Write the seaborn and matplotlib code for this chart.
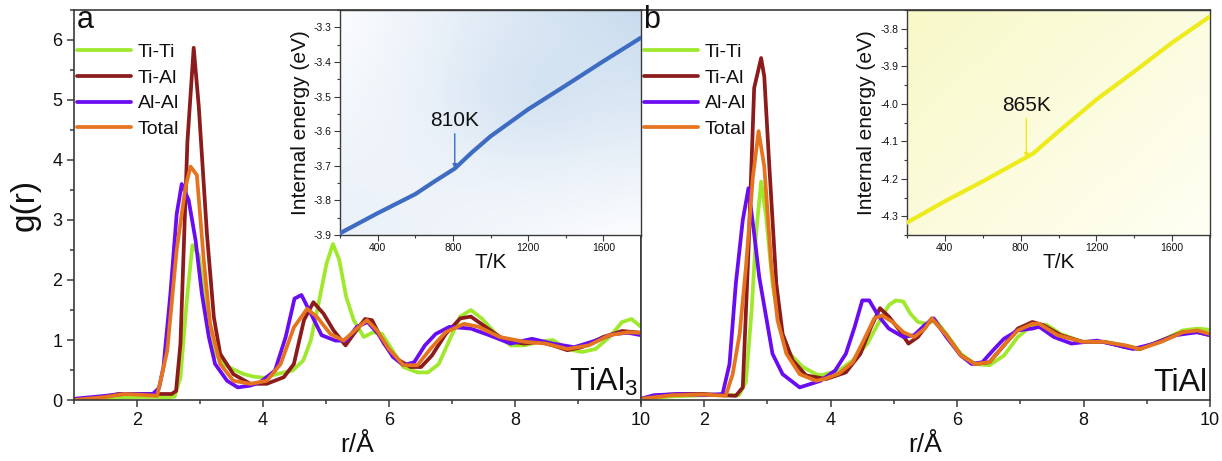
import matplotlib
matplotlib.use("Agg")
import matplotlib.pyplot as plt
import numpy as np
import seaborn as sns
from matplotlib.colors import LinearSegmentedColormap
from matplotlib.ticker import MultipleLocator

# ---- panel a (TiAl3) : pair distribution functions ----
A_TITI_R = [1.0, 1.5, 1.7, 2.0, 2.3, 2.5, 2.6, 2.69, 2.79, 2.88, 2.98, 3.08, 3.17, 3.27, 3.4,
            3.55, 3.7, 3.85, 4.02, 4.25, 4.47, 4.64, 4.76, 4.87, 5.01, 5.11, 5.21, 5.32, 5.44, 5.6,
            5.75, 5.89, 6.09, 6.23, 6.45, 6.62, 6.79, 6.96, 7.13, 7.3, 7.47, 7.7, 7.93, 8.15, 8.38,
            8.6, 8.83, 9.06, 9.28, 9.5, 9.7, 9.85, 10.0]
A_TITI_G = [0.0, 0.0, 0.04, 0.05, 0.05, 0.04, 0.06, 0.38, 1.66, 2.58, 2.42, 1.7, 1.2, 0.72, 0.58,
            0.5, 0.43, 0.39, 0.37, 0.44, 0.49, 0.66, 1.0, 1.55, 2.28, 2.6, 2.34, 1.72, 1.33, 1.05,
            1.13, 1.1, 0.77, 0.55, 0.46, 0.46, 0.6, 1.0, 1.39, 1.5, 1.36, 1.1, 0.91, 0.91, 0.97,
            1.0, 0.85, 0.8, 0.85, 1.05, 1.3, 1.35, 1.22]

A_TIAL_R = [1.0, 1.3, 1.7, 2.0, 2.3, 2.55, 2.62, 2.69, 2.8, 2.9, 2.98, 3.11, 3.22, 3.32, 3.53,
            3.8, 4.06, 4.33, 4.49, 4.65, 4.8, 4.96, 5.12, 5.31, 5.44, 5.62, 5.73, 5.92, 6.1, 6.34,
            6.51, 6.68, 6.9, 7.13, 7.3, 7.53, 7.76, 7.95, 8.15, 8.38, 8.6, 8.83, 9.06, 9.4, 9.7, 10.0]
A_TIAL_G = [0.0, 0.02, 0.1, 0.1, 0.1, 0.1, 0.15, 0.94, 4.3, 5.87, 4.9, 2.77, 1.38, 0.77, 0.43,
            0.27, 0.27, 0.38, 0.6, 1.33, 1.63, 1.44, 1.16, 0.91, 1.1, 1.35, 1.33, 0.94, 0.7, 0.55,
            0.55, 0.74, 1.1, 1.36, 1.39, 1.22, 1.05, 0.97, 0.94, 0.97, 0.91, 0.83, 0.88, 1.05, 1.15, 1.12]

A_ALAL_R = [1.0, 1.5, 1.8, 2.0, 2.25, 2.35, 2.42, 2.53, 2.63, 2.71, 2.82, 2.93, 3.03, 3.14, 3.24,
            3.43, 3.6, 3.8, 3.96, 4.19, 4.36, 4.5, 4.61, 4.76, 4.93, 5.15, 5.32, 5.49, 5.66, 5.83,
            6.06, 6.23, 6.4, 6.57, 6.74, 6.96, 7.3, 7.59, 7.93, 8.27, 8.6, 8.94, 9.28, 9.57, 9.8, 10.0]
A_ALAL_G = [0.02, 0.07, 0.1, 0.1, 0.1, 0.2, 0.55, 1.77, 3.1, 3.6, 3.33, 2.66, 1.77, 1.05, 0.6,
            0.32, 0.21, 0.24, 0.3, 0.49, 1.05, 1.69, 1.75, 1.44, 1.08, 0.99, 0.99, 1.22, 1.3, 1.1,
            0.72, 0.58, 0.63, 0.91, 1.1, 1.22, 1.19, 1.08, 0.94, 1.02, 0.94, 0.88, 0.99, 1.1, 1.12, 1.08]

A_TOT_R = [1.0, 1.5, 1.8, 2.0, 2.32, 2.48, 2.63, 2.77, 2.85, 2.95, 3.06, 3.16, 3.32, 3.53, 3.8,
           4.06, 4.28, 4.49, 4.7, 4.86, 5.07, 5.28, 5.49, 5.65, 5.81, 6.0, 6.23, 6.45, 6.68, 6.9,
           7.19, 7.42, 7.76, 8.15, 8.49, 8.83, 9.17, 9.5, 9.8, 10.0]
A_TOT_G = [0.0, 0.05, 0.1, 0.09, 0.07, 0.82, 2.5, 3.55, 3.89, 3.75, 2.33, 1.27, 0.6, 0.32, 0.27,
           0.32, 0.6, 1.21, 1.52, 1.38, 1.1, 0.99, 1.19, 1.33, 1.16, 0.85, 0.58, 0.58, 0.88, 1.13,
           1.27, 1.22, 1.05, 0.97, 0.94, 0.85, 0.91, 1.08, 1.13, 1.12]

# ---- panel b (TiAl) ----
B_TITI_R = [1.0, 1.5, 2.0, 2.3, 2.55, 2.66, 2.75, 2.82, 2.9, 2.98, 3.08, 3.19, 3.35, 3.56, 3.77,
            3.84, 4.13, 4.35, 4.58, 4.75, 4.92, 5.03, 5.15, 5.26, 5.38, 5.52, 5.66, 5.83, 6.06, 6.28,
            6.51, 6.74, 6.96, 7.19, 7.42, 7.64, 7.98, 8.32, 8.66, 8.89, 9.23, 9.57, 9.8, 10.0]
B_TITI_G = [0.02, 0.06, 0.08, 0.08, 0.08, 0.3, 1.5, 2.77, 3.64, 3.05, 1.94, 1.21, 0.77, 0.55, 0.43,
            0.41, 0.49, 0.66, 0.94, 1.27, 1.58, 1.66, 1.64, 1.44, 1.3, 1.27, 1.33, 1.1, 0.77, 0.6,
            0.58, 0.74, 1.05, 1.25, 1.25, 1.1, 0.97, 0.97, 0.91, 0.85, 0.99, 1.16, 1.19, 1.17]

B_TIAL_R = [1.0, 1.3, 1.6, 2.0, 2.3, 2.5, 2.61, 2.7, 2.79, 2.9, 2.95, 3.03, 3.14, 3.24, 3.4,
            3.61, 3.93, 4.24, 4.47, 4.64, 4.78, 4.92, 5.09, 5.23, 5.38, 5.6, 5.83, 6.06, 6.28, 6.51,
            6.74, 6.96, 7.19, 7.36, 7.64, 7.98, 8.32, 8.66, 8.89, 9.23, 9.57, 9.8, 10.0]
B_TIAL_G = [0.02, 0.08, 0.1, 0.1, 0.08, 0.07, 0.21, 2.5, 5.2, 5.7, 5.39, 3.89, 1.94, 1.1, 0.66,
            0.41, 0.35, 0.46, 0.77, 1.22, 1.53, 1.39, 1.16, 0.94, 1.05, 1.36, 1.08, 0.74, 0.6, 0.63,
            0.91, 1.19, 1.3, 1.25, 1.08, 0.97, 0.97, 0.88, 0.85, 0.99, 1.13, 1.13, 1.08]

B_ALAL_R = [1.0, 1.2, 1.6, 2.0, 2.29, 2.4, 2.5, 2.61, 2.7, 2.79, 2.87, 2.98, 3.08, 3.24, 3.51,
            3.84, 4.07, 4.24, 4.38, 4.5, 4.61, 4.75, 4.92, 5.15, 5.32, 5.49, 5.63, 5.83, 6.06, 6.23,
            6.4, 6.57, 6.74, 6.96, 7.19, 7.3, 7.53, 7.81, 8.21, 8.55, 8.78, 9.12, 9.46, 9.8, 10.0]
B_ALAL_G = [0.02, 0.08, 0.1, 0.08, 0.1, 0.6, 1.94, 3.0, 3.53, 2.77, 2.05, 1.38, 0.77, 0.43, 0.21,
            0.32, 0.49, 0.77, 1.22, 1.66, 1.66, 1.41, 1.19, 1.05, 1.08, 1.25, 1.36, 1.05, 0.74, 0.6,
            0.63, 0.83, 1.02, 1.16, 1.19, 1.22, 1.05, 0.94, 0.99, 0.91, 0.85, 0.94, 1.08, 1.13, 1.08]

B_TOT_R = [1.0, 1.5, 2.0, 2.34, 2.45, 2.56, 2.66, 2.77, 2.86, 2.95, 3.06, 3.16, 3.3, 3.51, 3.77,
           3.9, 4.13, 4.35, 4.52, 4.69, 4.81, 4.98, 5.15, 5.32, 5.49, 5.6, 5.83, 6.06, 6.28, 6.51,
           6.74, 6.96, 7.19, 7.3, 7.59, 7.98, 8.32, 8.66, 8.89, 9.23, 9.57, 9.8, 10.0]
B_TOT_G = [0.02, 0.08, 0.09, 0.07, 0.43, 1.1, 2.22, 3.72, 4.48, 3.89, 2.27, 1.33, 0.77, 0.43, 0.32,
           0.35, 0.44, 0.63, 0.99, 1.36, 1.41, 1.3, 1.13, 1.05, 1.19, 1.36, 1.08, 0.74, 0.6, 0.63,
           0.91, 1.16, 1.27, 1.27, 1.08, 0.97, 0.97, 0.91, 0.85, 0.97, 1.13, 1.16, 1.1]

# ---- insets: internal energy vs temperature ----
A_T = [200, 400, 600, 700, 810, 900, 1000, 1200, 1400, 1600, 1800]
A_E = [-3.895, -3.837, -3.782, -3.746, -3.708, -3.662, -3.615, -3.537, -3.468, -3.398, -3.33]
B_T = [200, 400, 600, 865, 1000, 1200, 1400, 1600, 1800]
B_E = [-4.317, -4.26, -4.207, -4.133, -4.074, -3.989, -3.914, -3.837, -3.767]

LABELS = ["Ti-Ti", "Ti-Al", "Al-Al", "Total"]
COLORS = ["#9fe82c", "#8c1c1c", "#6a0cf2", "#e6741e"]

sns.set_style("ticks")
plt.rcParams["font.family"] = ["Liberation Sans", "DejaVu Sans"]
plt.rcParams["mathtext.fontset"] = "custom"
plt.rcParams["mathtext.rm"] = "Liberation Sans"
for key in ("text.color", "axes.labelcolor", "xtick.labelcolor", "ytick.labelcolor"):
    plt.rcParams[key] = "#111111"

SPINE = "#3a3a3a"
W, H = 1222, 461


def px_box(x0, x1, y0, y1):
    # pixel box (top-origin) -> figure fraction rect
    return [x0 / W, 1 - y1 / H, (x1 - x0) / W, (y1 - y0) / H]


def style_spines(ax, lw=1.2):
    for s in ax.spines.values():
        s.set_visible(True)
        s.set_color(SPINE)
        s.set_linewidth(lw)


def draw_gr(ax, series, letter, material, show_y):
    for (r, g), lab, col in zip(series, LABELS, COLORS):
        sns.lineplot(x=r, y=g, ax=ax, color=col, lw=2.7, label=lab)
    ax.set_xlim(1, 10)
    ax.set_ylim(0, 6.5)
    ax.xaxis.set_major_locator(MultipleLocator(2))
    ax.xaxis.set_minor_locator(MultipleLocator(1))
    ax.yaxis.set_major_locator(MultipleLocator(1))
    ax.yaxis.set_minor_locator(MultipleLocator(0.5))
    ax.tick_params(which="both", direction="out", color=SPINE, width=1.1, labelsize=13)
    ax.tick_params(which="major", length=5)
    ax.tick_params(which="minor", length=3)
    ax.set_xlabel("r/Å", fontsize=19, labelpad=3)
    if show_y:
        ax.set_ylabel("g(r)", fontsize=24, labelpad=8)
    else:
        ax.set_ylabel("")
        ax.tick_params(axis="y", which="both", left=False, labelleft=False)
    style_spines(ax)
    ax.legend(loc="upper left", bbox_to_anchor=(0.005, 0.915), frameon=False, fontsize=14,
              handlelength=2.8, handletextpad=0.35, labelspacing=0.42, borderpad=0,
              borderaxespad=0)
    ax.text(0.004, 1.012, letter, transform=ax.transAxes, fontsize=22, va="top", ha="left")
    ax.text(0.995, 0.005, material, transform=ax.transAxes, fontsize=23, va="bottom", ha="right")


def draw_inset(ax, t, e, color, cmap, grad, ylim, yticks, note, note_xy, note_text_xy):
    ax.imshow(grad, extent=(0, 1, 0, 1), transform=ax.transAxes, aspect="auto",
              cmap=cmap, origin="lower", zorder=0, interpolation="bicubic")
    sns.lineplot(x=t, y=e, ax=ax, color=color, lw=3.0, zorder=3)
    ax.set_xlim(200, 1800)
    ax.set_ylim(*ylim)
    ax.set_xticks([400, 800, 1200, 1600])
    ax.xaxis.set_minor_locator(MultipleLocator(200))
    ax.set_yticks(yticks)
    ax.set_yticklabels([f"{v:.1f}" for v in yticks])
    ax.yaxis.set_minor_locator(MultipleLocator(0.05))
    ax.tick_params(which="both", direction="out", color=SPINE, width=0.8, labelsize=7.5, pad=2)
    ax.tick_params(which="major", length=4)
    ax.tick_params(which="minor", length=2.5)
    ax.set_xlabel("T/K", fontsize=15, labelpad=0)
    ax.set_ylabel("Internal energy (eV)", fontsize=15, labelpad=3)
    style_spines(ax, 1.0)
    ax.annotate(note, xy=note_xy, xytext=note_text_xy, ha="center", va="bottom", fontsize=15,
                arrowprops=dict(arrowstyle="-|>", color=color, lw=1.0, mutation_scale=6,
                                shrinkA=0, shrinkB=0), zorder=4)


fig = plt.figure(figsize=(W / 100, H / 100), dpi=100)
ax_a = fig.add_axes(px_box(74, 641, 10, 400))
ax_b = fig.add_axes(px_box(641, 1210, 10, 400))

draw_gr(ax_a, [(A_TITI_R, A_TITI_G), (A_TIAL_R, A_TIAL_G), (A_ALAL_R, A_ALAL_G),
               (A_TOT_R, A_TOT_G)], "a", r"TiAl$_\mathregular{3}$", True)
draw_gr(ax_b, [(B_TITI_R, B_TITI_G), (B_TIAL_R, B_TIAL_G), (B_ALAL_R, B_ALAL_G),
               (B_TOT_R, B_TOT_G)], "b", "TiAl", False)

# gradient backgrounds of the insets
gx, gy = np.meshgrid(np.linspace(0, 1, 64), np.linspace(0, 1, 64))
blue_grad = gx * gy + 0.35 * (1 - gx) * (1 - gy) + 0.3 * np.exp(-((gx - 0.6) ** 2 + (gy - 0.6) ** 2) / 0.08)
yellow_grad = 0.55 * (1 - gx) + 0.45 * gy
blue_cmap = LinearSegmentedColormap.from_list("bl", ["#fbfcfe", "#c8dbee"])
yellow_cmap = LinearSegmentedColormap.from_list("yl", ["#fffff4", "#f8f8c8"])

ins_a = fig.add_axes(px_box(340, 641, 10, 235))
draw_inset(ins_a, A_T, A_E, "#3d6cc2", blue_cmap, blue_grad, (-3.9, -3.25),
           [-3.9, -3.8, -3.7, -3.6, -3.5, -3.4, -3.3], "810K", (810, -3.708), (810, -3.598))
ins_b = fig.add_axes(px_box(907, 1210, 10, 235))
draw_inset(ins_b, B_T, B_E, "#eeeb1c", yellow_cmap, yellow_grad, (-4.35, -3.75),
           [-4.3, -4.2, -4.1, -4.0, -3.9, -3.8], "865K", (830, -4.143), (830, -4.03))

fig.savefig("out.png", dpi=100)
